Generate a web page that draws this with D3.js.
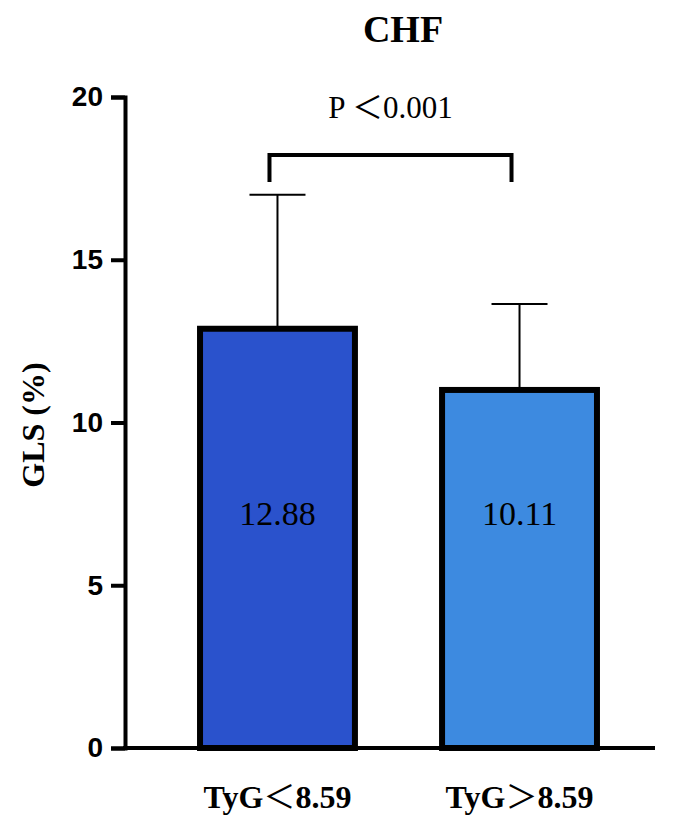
<!DOCTYPE html>
<html><head><meta charset="utf-8">
<script src="https://cdn.jsdelivr.net/npm/d3@7"></script>
<style>body{margin:0;background:#fff}</style></head>
<body><svg id="c" width="685" height="820"></svg>
<script>
const categories = ["TyG\uFF1C8.59", "TyG\uFF1E8.59"];
const values = [12.88, 11.0];
const valueLabels = ["12.88", "10.11"];
const errorTops = [17.0, 13.64];
const colors = ["#2a52cc", "#3d8ae0"];
const yTicks = [0, 5, 10, 15, 20];

const svg = d3.select("#c");
const y = d3.scaleLinear().domain([0, 20]).range([748, 97]);
const x = d3.scaleBand().domain(categories).range([125, 672]).paddingInner(0.36).paddingOuter(0.31);

function mixed(sel, str, size) {
  // split into runs: fullwidth chars in CJK font
  const parts = str.split(/([\uFF1C\uFF1E])/).filter(s => s.length);
  parts.forEach(p => {
    const cjk = /[\uFF1C\uFF1E]/.test(p);
    sel.append("tspan").attr("font-family", cjk ? "Noto Sans CJK SC" : "Liberation Serif")
      .attr("font-weight", cjk ? "normal" : null).text(p);
  });
}

categories.forEach((c, i) => {
  const bx = x(c), bw = x.bandwidth(), cx = bx + bw / 2;
  svg.append("line").attr("x1", cx).attr("x2", cx).attr("y1", y(values[i])).attr("y2", y(errorTops[i]))
    .attr("stroke", "#000").attr("stroke-width", 2);
  svg.append("line").attr("x1", cx - 28).attr("x2", cx + 28).attr("y1", y(errorTops[i])).attr("y2", y(errorTops[i]))
    .attr("stroke", "#000").attr("stroke-width", 2);
  svg.append("rect").attr("x", bx).attr("y", y(values[i])).attr("width", bw).attr("height", y(0) - y(values[i]))
    .attr("fill", colors[i]).attr("stroke", "#000").attr("stroke-width", 6);
  svg.append("text").attr("x", cx).attr("y", 525).attr("text-anchor", "middle")
    .attr("font-family", "Liberation Serif").attr("font-size", 34).text(valueLabels[i]);
});

const ya = svg.append("g").attr("transform", "translate(125,0)")
  .call(d3.axisLeft(y).tickValues(yTicks).tickSize(14).tickPadding(8));
ya.select(".domain").attr("stroke-width", 4);
ya.selectAll(".tick line").attr("stroke-width", 4);
ya.selectAll("text").attr("font-family", "Liberation Sans").attr("font-weight", "bold").attr("font-size", 28);

const xa = svg.append("g").attr("transform", "translate(0,748)")
  .call(d3.axisBottom(x).tickSize(0).tickPadding(14).tickFormat(""));
xa.select(".domain").attr("stroke-width", 4).attr("d", "M123,0H655");
categories.forEach(c => {
  const t = svg.append("text").attr("x", x(c) + x.bandwidth() / 2).attr("y", 808).attr("text-anchor", "middle")
    .attr("font-weight", "bold").attr("font-size", 32);
  mixed(t, c);
});

const c1 = x(categories[0]) + x.bandwidth() / 2 - 8, c2 = x(categories[1]) + x.bandwidth() / 2 - 8;
svg.append("path").attr("d", `M${c1},182V155H${c2}V182`).attr("fill", "none").attr("stroke", "#000").attr("stroke-width", 4);
const pt = svg.append("text").attr("x", (c1 + c2) / 2).attr("y", 118).attr("text-anchor", "middle").attr("font-size", 31);
pt.append("tspan").attr("font-family", "Liberation Serif").text("P ");
pt.append("tspan").attr("font-family", "Noto Sans CJK SC").text("\uFF1C");
pt.append("tspan").attr("font-family", "Liberation Serif").text("0.001");

svg.append("text").attr("x", 403).attr("y", 42).attr("text-anchor", "middle")
  .attr("font-family", "Liberation Serif").attr("font-weight", "bold").attr("font-size", 38).text("CHF");
svg.append("text").attr("transform", "translate(44,425) rotate(-90)").attr("text-anchor", "middle")
  .attr("font-family", "Liberation Serif").attr("font-weight", "bold").attr("font-size", 32).text("GLS (%)");
</script></body></html>
